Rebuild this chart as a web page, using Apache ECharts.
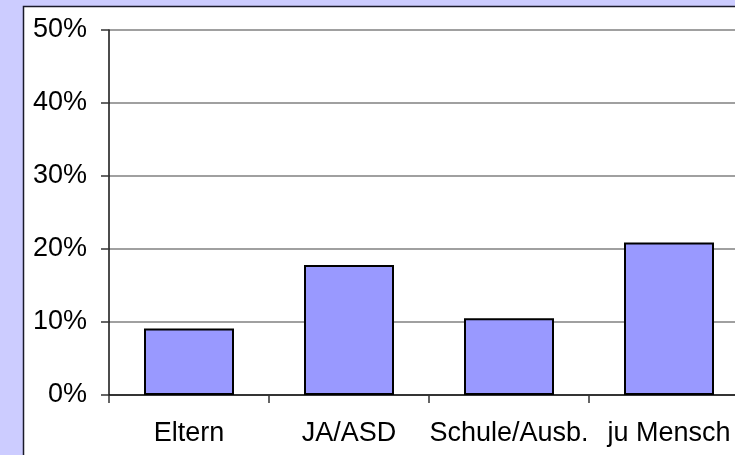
<!DOCTYPE html>
<html>
<head>
<meta charset="utf-8">
<script src="https://cdn.jsdelivr.net/npm/echarts@6/dist/echarts.min.js"></script>
<style>
html,body{margin:0;padding:0;background:#CCCCFF;overflow:hidden;width:735px;height:455px;}
#c{width:770px;height:455px;}
</style>
</head>
<body>
<div id="c"></div>
<script>
var categories = ['Eltern', 'JA/ASD', 'Schule/Ausb.', 'ju Mensch'];
var values = [9.1, 17.8, 10.5, 20.9];
var yTicks = [0, 10, 20, 30, 40, 50];

var chart = echarts.init(document.getElementById('c'), null, {renderer: 'canvas'});
var font = '"Liberation Sans", Arial, sans-serif';
chart.setOption({
  backgroundColor: '#CCCCFF',
  animation: false,
  graphic: [{
    type: 'rect',
    z: -10,
    shape: {x: 23.5, y: 6.5, width: 800, height: 500},
    style: {fill: '#ffffff', stroke: '#1a1a2a', lineWidth: 1.5}
  }],
  grid: {left: 109, top: 30, width: 640, height: 365},
  xAxis: {
    type: 'category',
    data: categories,
    boundaryGap: true,
    axisLine: {lineStyle: {color: '#111', width: 1.5}},
    axisTick: {show: true, length: 8, lineStyle: {color: '#333', width: 1.5}},
    axisLabel: {color: '#000', fontFamily: font, fontSize: 27, margin: 25, interval: 0}
  },
  yAxis: {
    type: 'value',
    min: yTicks[0],
    max: yTicks[yTicks.length - 1],
    interval: 10,
    axisLine: {show: true, lineStyle: {color: '#111', width: 1.5}},
    axisTick: {show: true, length: 8, lineStyle: {color: '#333', width: 1.5}},
    axisLabel: {color: '#000', fontFamily: font, fontSize: 27, margin: 22, formatter: '{value}%'},
    splitLine: {show: true, lineStyle: {color: '#808080', width: 1.5}}
  },
  series: [{
    type: 'bar',
    data: values,
    barWidth: 90,
    itemStyle: {color: '#9999FF', borderColor: '#000', borderWidth: 2}
  }]
});
</script>
</body>
</html>
